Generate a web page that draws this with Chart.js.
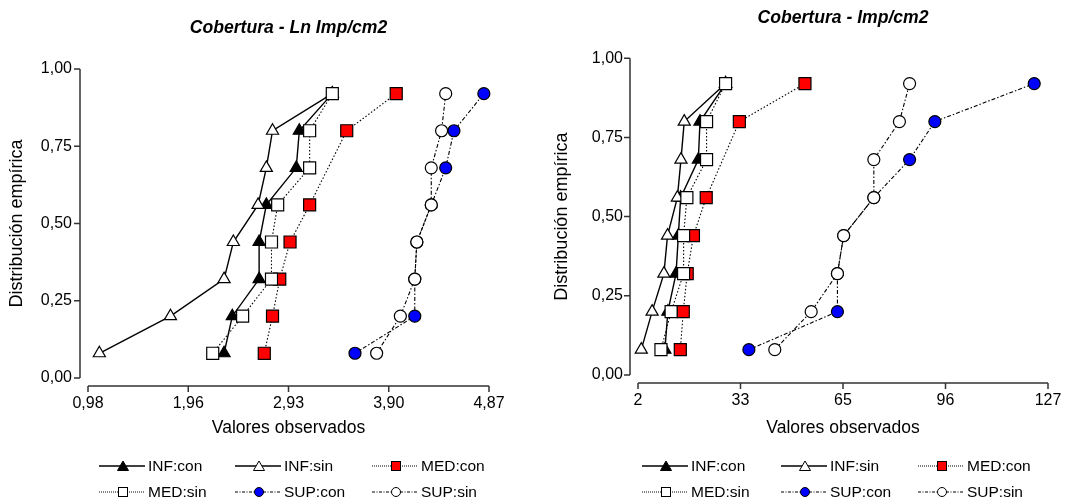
<!DOCTYPE html>
<html><head><meta charset="utf-8">
<script src="https://cdn.jsdelivr.net/npm/chart.js@4.4.0/dist/chart.umd.min.js"></script>
<style>
html,body{margin:0;padding:0;background:#fff;}
#wrap{position:relative;width:1086px;height:502px;overflow:hidden;font-family:Arial,"Liberation Sans",sans-serif;}
canvas{position:absolute;top:0;}
.leg{position:absolute;display:flex;align-items:center;height:16px;font-size:15.5px;color:#000;white-space:nowrap;line-height:16px;}
.leg svg{display:block;margin-right:3px;flex:none;}
</style></head><body>
<div id="wrap">
<canvas id="c1" width="543" height="502" style="left:0"></canvas>
<canvas id="c2" width="543" height="502" style="left:543px"></canvas>
</div>
<script>
// ---------------- data ----------------
const probs = [0.08, 0.20, 0.32, 0.44, 0.56, 0.68, 0.80, 0.92];
const probsMedCon = [0.08, 0.20, 0.32, 0.44, 0.56, 0.80, 0.92];

// Left chart: Cobertura - Ln Imp/cm2
const lnInfCon = [2.30, 2.38, 2.64, 2.64, 2.71, 3.00, 3.03, 3.35];
const lnInfSin = [1.09, 1.78, 2.30, 2.39, 2.63, 2.71, 2.77, 3.35];
const lnMedCon = [2.69, 2.77, 2.84, 2.94, 3.13, 3.49, 3.97];
const lnMedSin = [2.19, 2.48, 2.76, 2.76, 2.82, 3.13, 3.13, 3.35];
const lnSupCon = [3.57, 4.15, 4.15, 4.17, 4.31, 4.45, 4.53, 4.82];
const lnSupSin = [3.78, 4.01, 4.15, 4.17, 4.31, 4.31, 4.41, 4.45];
const lnXTicks = [0.98, 1.9525, 2.925, 3.8975, 4.87];
const lnXLabels = ['0,98', '1,96', '2,93', '3,90', '4,87'];

// Right chart: Cobertura - Imp/cm2
const rInfCon = [10.2, 11.1, 13.6, 14.3, 15.0, 20.4, 20.9, 28.7];
const rInfSin = [3.0, 6.3, 9.9, 11.0, 14.0, 15.1, 16.1, 28.7];
const rMedCon = [14.9, 15.8, 17.0, 18.9, 22.8, 32.9, 52.9];
const rMedSin = [9.0, 12.1, 15.9, 15.9, 16.9, 22.9, 22.9, 28.7];
const rSupCon = [35.8, 62.8, 62.8, 64.7, 73.9, 84.8, 92.5, 122.8];
const rSupSin = [43.7, 54.8, 62.8, 64.7, 73.9, 73.9, 81.7, 84.8];
const rXTicks = [2, 33.25, 64.5, 95.75, 127];
const rXLabels = ['2', '33', '65', '96', '127'];

const yTicks = [0, 0.25, 0.5, 0.75, 1];
const yLabels = ['0,00', '0,25', '0,50', '0,75', '1,00'];

const seriesNames = ['INF:con', 'INF:sin', 'MED:con', 'MED:sin', 'SUP:con', 'SUP:sin'];
const seriesProbs = [probs, probs, probsMedCon, probs, probs, probs];

// ---------------- styles ----------------
const FONT = "Arial, 'Liberation Sans', sans-serif";
Chart.defaults.font.family = FONT;
Chart.defaults.color = '#000';

const seriesStyle = [
  {shape: 'triangle', fill: '#000000', dash: [], lw: 1.4, r: 7},
  {shape: 'triangle', fill: '#ffffff', dash: [], lw: 1.4, r: 7},
  {shape: 'rect', fill: '#ff0000', dash: [1.5, 2], lw: 1.1, r: 8.5},
  {shape: 'rect', fill: '#ffffff', dash: [1.5, 2], lw: 1.1, r: 8.5},
  {shape: 'circle', fill: '#0000ff', dash: [4, 2, 1.5, 2], lw: 1.1, r: 6},
  {shape: 'circle', fill: '#ffffff', dash: [4, 2, 1.5, 2], lw: 1.1, r: 6}
];

const axesPlugin = {
  id: 'prismAxes',
  beforeDatasetsDraw(chart, args, o) {
    const {ctx, scales: {x, y}} = chart;
    const xl = x.getPixelForValue(x.min), xr = x.getPixelForValue(x.max);
    const yb = y.getPixelForValue(y.min), yt = y.getPixelForValue(y.max);
    const ax = xl - o.offset, ay = yb + o.offset;
    ctx.save();
    ctx.strokeStyle = o.color;
    ctx.lineWidth = o.width;
    ctx.setLineDash([]);
    ctx.beginPath();
    ctx.moveTo(ax, yb); ctx.lineTo(ax, yt);
    y.ticks.forEach(t => { const p = y.getPixelForValue(t.value); ctx.moveTo(ax - o.tickLen, p); ctx.lineTo(ax, p); });
    ctx.moveTo(xl, ay); ctx.lineTo(xr, ay);
    x.ticks.forEach(t => { const p = x.getPixelForValue(t.value); ctx.moveTo(p, ay); ctx.lineTo(p, ay + o.tickLen); });
    ctx.stroke();
    ctx.restore();
  }
};

function makeChart(id, p) {
  const datasets = p.series.map((vals, i) => {
    const st = seriesStyle[i];
    return {
      label: seriesNames[i],
      data: vals.map((v, k) => ({x: v, y: seriesProbs[i][k]})),
      showLine: true,
      borderColor: '#000',
      borderWidth: st.lw,
      borderDash: st.dash,
      pointStyle: st.shape,
      pointRadius: st.r,
      pointHoverRadius: st.r,
      pointBackgroundColor: st.fill,
      pointBorderColor: '#000',
      pointBorderWidth: 1.2,
      clip: false,
      order: 5 - i
    };
  });
  return new Chart(document.getElementById(id), {
    type: 'scatter',
    data: {datasets},
    options: {
      responsive: false, animation: false, devicePixelRatio: 1,
      events: [],
      layout: {padding: {left: 0, right: p.padRight, top: 0, bottom: p.padBottom}},
      plugins: {
        legend: {display: false},
        tooltip: {enabled: false},
        title: {display: true, text: p.title, fullSize: false, color: '#000',
          font: {size: 17.6, weight: 'bold', style: 'italic', family: FONT},
          padding: {top: p.titleTop, bottom: p.titleBottom}},
        prismAxes: {offset: 8, tickLen: 6, color: '#333', width: 1.5}
      },
      scales: {
        x: {
          type: 'linear', min: p.xTicks[0], max: p.xTicks[p.xTicks.length - 1],
          grid: {display: false, drawTicks: false}, border: {display: false},
          afterBuildTicks: s => { s.ticks = p.xTicks.map(v => ({value: v})); },
          ticks: {callback: (v, i) => p.xLabels[i], padding: p.xTickPad, font: {size: 16}, color: '#000', maxRotation: 0, autoSkip: false},
          title: {display: true, text: 'Valores observados', font: {size: 17.5}, color: '#000', padding: {top: 0, bottom: 0}},
          afterFit: s => { s.height = p.xH; }
        },
        y: {
          type: 'linear', min: 0, max: 1,
          grid: {display: false, drawTicks: false}, border: {display: false},
          afterBuildTicks: s => { s.ticks = yTicks.map(v => ({value: v})); },
          ticks: {callback: (v, i) => yLabels[i], padding: p.yTickPad, font: {size: 16}, color: '#000', autoSkip: false},
          title: {display: true, text: 'Distribución empírica', font: {size: 18}, color: '#000', padding: {top: p.yTitlePad, bottom: 0}},
          afterFit: s => { s.width = p.yW; }
        }
      }
    },
    plugins: [axesPlugin]
  });
}

makeChart('c1', {
  title: 'Cobertura - Ln Imp/cm2',
  series: [lnInfCon, lnInfSin, lnMedCon, lnMedSin, lnSupCon, lnSupSin],
  xTicks: lnXTicks, xLabels: lnXLabels,
  padRight: 54, padBottom: 63.5, xH: 60.5, yW: 88,
  titleTop: 17.4, titleBottom: 30.4, xTickPad: 16, yTickPad: 16, yTitlePad: 6.7
});
makeChart('c2', {
  title: 'Cobertura - Imp/cm2',
  series: [rInfCon, rInfSin, rMedCon, rMedSin, rSupCon, rSupSin],
  xTicks: rXTicks, xLabels: rXLabels,
  padRight: 38, padBottom: 63.2, xH: 63.8, yW: 95,
  titleTop: 7.4, titleBottom: 29.7, xTickPad: 16, yTickPad: 15, yTitlePad: 8.7
});

// ---------------- legends (HTML) ----------------
const legendCols = [[99, 235, 372], [642, 781, 918]];
const legendRows = [466, 492];
const wrap = document.getElementById('wrap');
function markerSvg(i) {
  const st = seriesStyle[i];
  let line = '<line x1="0" y1="7" x2="46" y2="7" stroke="#000" ';
  if (i < 2) line += 'stroke-width="1.3"/>';
  else if (i < 4) line += 'stroke-width="1" stroke-dasharray="1,1"/>';
  else line += 'stroke-width="1" stroke-dasharray="3,1.5,1,1.5"/>';
  let m;
  if (st.shape === 'triangle') m = `<polygon points="18.5,11.5 29.5,11.5 24,2" fill="${st.fill}" stroke="#000" stroke-width="1"/>`;
  else if (st.shape === 'rect') m = `<rect x="19.5" y="2.5" width="9" height="9" fill="${st.fill}" stroke="#000" stroke-width="1"/>`;
  else m = `<circle cx="24" cy="7" r="4.5" fill="${st.fill}" stroke="#000" stroke-width="1"/>`;
  return `<svg width="46" height="14" viewBox="0 0 46 14">${line}${m}</svg>`;
}
legendCols.forEach(cols => {
  seriesNames.forEach((name, i) => {
    const d = document.createElement('div');
    d.className = 'leg';
    d.style.left = cols[i % 3] + 'px';
    d.style.top = (legendRows[Math.floor(i / 3)] - 8) + 'px';
    d.innerHTML = markerSvg(i) + '<span>' + name + '</span>';
    wrap.appendChild(d);
  });
});
</script>
</body></html>
